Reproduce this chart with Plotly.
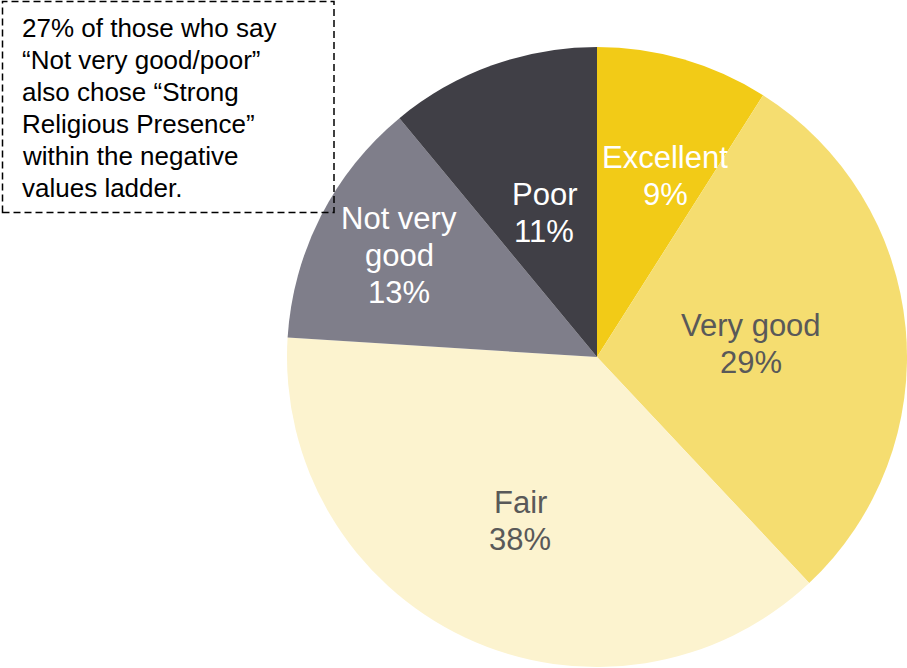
import math
import plotly.graph_objects as go

# ---- data ----
categories = ["Excellent", "Very good", "Fair", "Not very good", "Poor"]
values = [9, 29, 38, 13, 11]
label_lines = [["Excellent"], ["Very good"], ["Fair"], ["Not very", "good"], ["Poor"]]
slice_colors = ["#F2CB17", "#F5DD70", "#FCF3CF", "#7F7E8A", "#403F46"]
text_colors = ["#FFFFFF", "#595959", "#595959", "#FFFFFF", "#FFFFFF"]
label_radius = [0.63, 0.50, 0.58, 0.72, 0.50]
label_angle_shift = [4.3, 0.0, 0.0, 0.5, 0.0]  # degrees
note_lines = [
    "27% of those who say",
    "\u201cNot very good/poor\u201d",
    "also chose \u201cStrong",
    "Religious Presence\u201d",
    "within the negative",
    "values ladder.",
]

W, H = 907, 668
FONT = "Liberation Sans, Arial, sans-serif"

# pie geometry (pixels)
cx_px, cy_px, R = 597, 357, 310
dom_x = [(cx_px - R) / W, min(1.0, (cx_px + R) / W)]
dom_y = [1 - (cy_px + R) / H, 1 - (cy_px - R) / H]

fig = go.Figure(go.Pie(
    labels=categories,
    values=values,
    sort=False,
    direction="clockwise",
    rotation=0,
    marker=dict(colors=slice_colors, line=dict(width=0)),
    textinfo="none",
    hoverinfo="label+percent",
    showlegend=False,
    domain=dict(x=dom_x, y=dom_y),
))

annotations = []
total = sum(values)
cum = 0
line_h = 37
for i, v in enumerate(values):
    mid = (cum + v / 2) / total * 2 * math.pi + math.radians(label_angle_shift[i])
    cum += v
    r = label_radius[i] * R
    x_px = cx_px + r * math.sin(mid)
    y_px = cy_px - r * math.cos(mid)
    lines = label_lines[i] + [f"{round(v / total * 100)}%"]
    n = len(lines)
    for j, t in enumerate(lines):
        annotations.append(dict(
            x=x_px / W, y=1 - y_px / H, xref="paper", yref="paper",
            text=t, showarrow=False, xanchor="center", yanchor="middle",
            yshift=-(j - (n - 1) / 2) * line_h - 1.5,
            font=dict(family=FONT, size=31, color=text_colors[i]),
        ))

# note text box
note_top, note_step = 28, 32
for j, t in enumerate(note_lines):
    annotations.append(dict(
        x=19.5 / W, y=1 - (note_top + j * note_step) / H, xref="paper", yref="paper",
        text=t, showarrow=False, xanchor="left", yanchor="middle",
        font=dict(family=FONT, size=26, color="#000000"),
    ))

fig.update_layout(
    width=W, height=H,
    margin=dict(l=0, r=0, t=0, b=0),
    paper_bgcolor="white",
    plot_bgcolor="white",
    annotations=annotations,
    shapes=[dict(
        type="rect", xref="paper", yref="paper",
        x0=2.5 / W, x1=334 / W, y0=1 - 212.5 / H, y1=1 - 1.5 / H,
        line=dict(color="#000000", width=1.5, dash="7px,4px"),
        fillcolor="rgba(0,0,0,0)",
    )],
)

fig.write_html(
    "out.html",
    config={"displayModeBar": False},
    post_script="document.body.style.margin='0';document.body.style.overflow='hidden';",
)
